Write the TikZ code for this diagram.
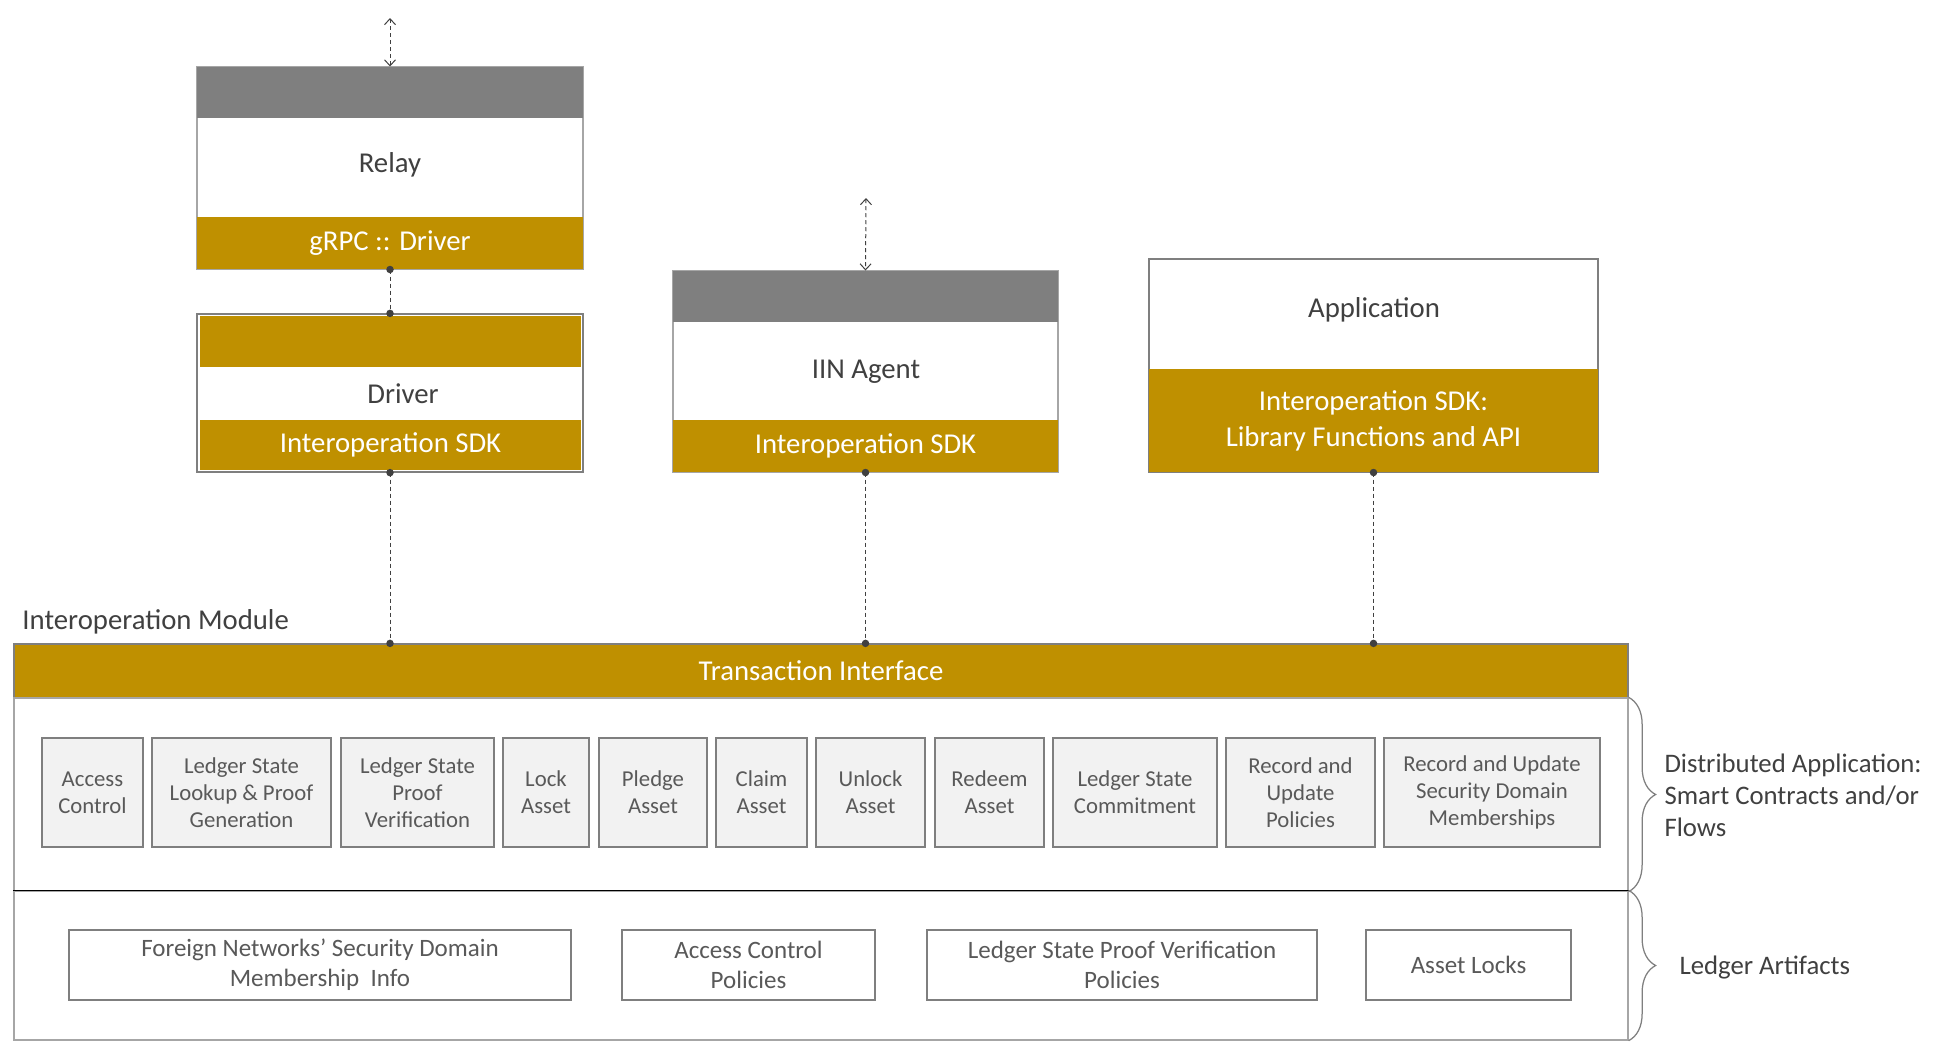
\documentclass[tikz,border=0pt]{standalone}
\usepackage{fontspec}
\setmainfont{Carlito}
\usetikzlibrary{positioning, fit, arrows.meta, decorations.pathreplacing}
\definecolor{Gold}{HTML}{BF9000}
\definecolor{HdrGray}{HTML}{7F7F7F}
\definecolor{BoxFill}{HTML}{F2F2F2}
\definecolor{EdgeGray}{HTML}{A6A6A6}
\definecolor{TxtDark}{HTML}{404040}
\definecolor{TxtMid}{HTML}{595959}
\newcommand{\bigsize}{\fontsize{11.5}{13.8}\selectfont}
\newcommand{\funcsize}{\fontsize{9.1}{10.9}\selectfont}
\newcommand{\artsize}{\fontsize{10}{12}\selectfont}
\newcommand{\sidesize}{\fontsize{10.7}{12.8}\selectfont}
\tikzset{
  frame/.style={fit={#1}, inner sep=0pt, fill=white, draw=EdgeGray, line width=0.5pt},
  graybar/.style={fit={#1}, inner sep=0pt, fill=HdrGray},
  goldbar/.style={fit={#1}, inner sep=0pt, fill=Gold},
  funcbox/.style={fit={#1}, inner sep=0pt, fill=BoxFill, draw=HdrGray, line width=0.5pt},
  artbox/.style={fit={#1}, inner sep=0pt, draw=HdrGray, line width=0.5pt},
  caption/.style={text=TxtDark, font=\bigsize, inner sep=0pt},
  goldtext/.style={text=white, font=\bigsize, inner sep=0pt, align=center},
  functext/.style={text=TxtMid, font=\funcsize, inner sep=0pt, align=center},
  arttext/.style={text=TxtMid, font=\artsize, inner sep=0pt, align=center},
  sidetext/.style={text=TxtDark, font=\sidesize, inner sep=0pt, anchor=west, align=left},
  link/.style={draw=TxtDark, line width=0.4pt, dash pattern=on 1.6pt off 1.2pt},
  ext/.style={link, {Straight Barb[length=2.4pt,width=4.4pt]}-{Straight Barb[length=2.4pt,width=4.4pt]}},
  joint/.style={circle, fill=TxtDark, inner sep=0pt, minimum size=3pt},
  bracket/.style={draw=HdrGray, line width=0.5pt, decorate, decoration={brace, amplitude=10.8pt}}
}
\begin{document}
\begin{tikzpicture}[x=0.4pt,y=-0.4pt]
\useasboundingbox (0,0) rectangle (1951,1061);
% relay
\node[frame={(197,67) (583,269)}] (relay) {};
\node[graybar={(197,67) (583,118)}] (relayhdr) {};
\node[caption] (relaytxt) at (390,165) {Relay};
\node[goldbar={(197,217) (583,269)}] (grpc) {};
\node[goldtext] (grpctxt) at (grpc) {gRPC :: Driver};
\coordinate (relayout) at (390,18);
\draw[ext] (relayout) -- (relayhdr.north);
% driver
\node[frame={(197,314) (583,472)}, draw=HdrGray] (drv) {};
\node[goldbar={(200,316) (581,367)}] (drvtop) {};
\node[caption] (drvtxt) at (403,394) {Driver};
\node[goldbar={(200,420) (581,470)}] (drvsdk) {};
\node[goldtext] (drvsdktxt) at (drvsdk) {Interoperation SDK};
% iin agent
\node[frame={(673,271) (1058,472)}] (iin) {};
\node[graybar={(673,271) (1058,322)}] (iinhdr) {};
\node[caption] (iintxt) at (866,372) {IIN Agent};
\node[goldbar={(673,420) (1058,472)}] (iinsdk) {};
\node[goldtext] (iinsdktxt) at (iinsdk) {Interoperation SDK};
\coordinate (iinout) at (866,198);
\draw[ext] (iinout) -- (iinhdr.north);
% application
\node[frame={(1149,259) (1598,472)}, draw=HdrGray] (app) {};
\node[caption] (apptxt) at (1374,310) {Application};
\node[goldbar={(1149,369) (1598,472)}] (appsdk) {};
\node[goldtext] (appsdktxt) at (appsdk) {Interoperation SDK:\\[0.5pt]Library Functions and API};
% interoperation module
\node[caption, anchor=west] (modtxt) at (22,622) {Interoperation Module};
\node[goldbar={(14,644) (1628,698)}, draw=HdrGray, line width=0.5pt] (tx) {};
\node[goldtext] (txtxt) at (tx) {Transaction Interface};
\node[frame={(14,698) (1628,891)}] (upper) {};
\node[frame={(14,891) (1628,1040)}] (lower) {};
\draw[black, line width=0.5pt] (lower.north west) -- (lower.north east);
% functions
\node[funcbox={(42,738) (143,847)}] (acc) {};
\node[functext] at (acc) {Access\\Control};
\node[funcbox={(152,738) (331,847)}] (lookup) {};
\node[functext] at (lookup) {Ledger State\\Lookup \& Proof\\Generation};
\node[funcbox={(341,738) (494,847)}] (proofver) {};
\node[functext] at (proofver) {Ledger State\\Proof\\Verification};
\node[funcbox={(503,738) (589,847)}] (lock) {};
\node[functext] at (lock) {Lock\\Asset};
\node[funcbox={(599,738) (707,847)}] (pledge) {};
\node[functext] at (pledge) {Pledge\\Asset};
\node[funcbox={(716,738) (807,847)}] (claim) {};
\node[functext] at (claim) {Claim\\Asset};
\node[funcbox={(816,738) (925,847)}] (unlock) {};
\node[functext] at (unlock) {Unlock\\Asset};
\node[funcbox={(935,738) (1044,847)}] (redeem) {};
\node[functext] at (redeem) {Redeem\\Asset};
\node[funcbox={(1053,738) (1217,847)}] (commit) {};
\node[functext] at (commit) {Ledger State\\Commitment};
\node[funcbox={(1226,738) (1375,847)}] (policies) {};
\node[functext] at (policies) {Record and\\Update\\Policies};
\node[funcbox={(1384,738) (1600,847)}] (members) {};
\node[functext] at (members) {Record and Update\\Security Domain\\Memberships};
% artifacts
\node[artbox={(69,930) (571,1000)}] (foreign) {};
\node[arttext] at (foreign) {Foreign Networks’ Security Domain\\Membership\ \ Info};
\node[artbox={(622,930) (875,1000)}] (accpol) {};
\node[arttext] at (accpol) {Access Control\\Policies};
\node[artbox={(927,930) (1317,1000)}] (proofpol) {};
\node[arttext] at (proofpol) {Ledger State Proof Verification\\Policies};
\node[artbox={(1366,930) (1571,1000)}] (locks) {};
\node[arttext] at (locks) {Asset Locks};
% braces
\draw[bracket] (upper.north east) -- (upper.south east);
\draw[bracket] (lower.north east) -- (lower.south east);
\node[sidetext] (daptxt) at (1664,795) {Distributed Application:\\Smart Contracts and/or\\Flows};
\node[sidetext] (arttxt) at (1679,967) {Ledger Artifacts};
% connectors
\draw[link] (grpc.south) -- (drv.north);
\draw[link] (drv.south) -- (drv.south |- tx.north);
\draw[link] (iinsdk.south) -- (iinsdk.south |- tx.north);
\draw[link] (appsdk.south) -- (appsdk.south |- tx.north);
\node[joint] (j1) at (grpc.south) {};
\node[joint] (j2) at (drv.north) {};
\node[joint] (j3) at (drv.south) {};
\node[joint] (j4) at (drv.south |- tx.north) {};
\node[joint] (j5) at (iinsdk.south) {};
\node[joint] (j6) at (iinsdk.south |- tx.north) {};
\node[joint] (j7) at (appsdk.south) {};
\node[joint] (j8) at (appsdk.south |- tx.north) {};
\end{tikzpicture}
\end{document}
